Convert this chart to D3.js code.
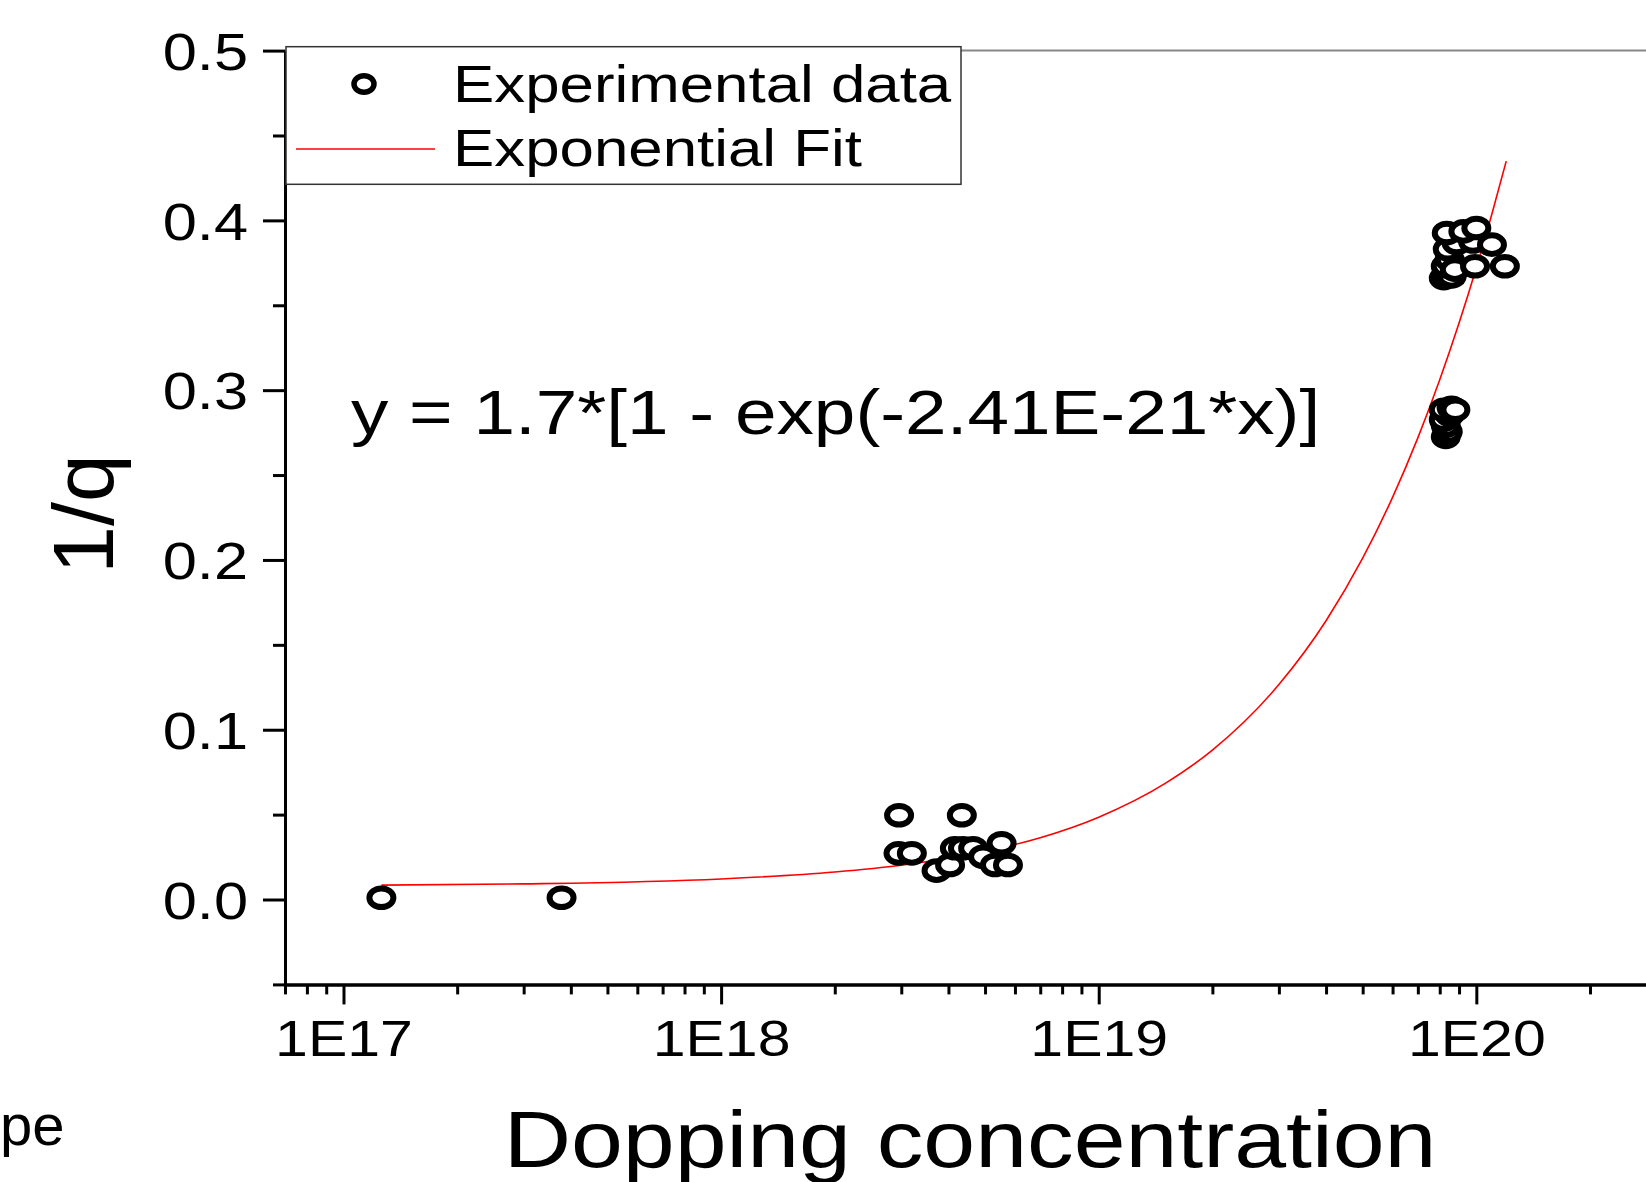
<!DOCTYPE html>
<html>
<head>
<meta charset="utf-8">
<script src="https://cdn.jsdelivr.net/npm/d3@7/dist/d3.min.js"></script>
<style>
  body { margin: 0; background: #fff; }
  svg { display: block; font-family: "Liberation Sans", Arial, sans-serif; }
</style>
</head>
<body>
<div id="chart"></div>
<script>
// experimental points (doping concentration, 1/q)
const expX = [
  1.26e17, 3.78e17,
  2.96e18, 4.34e18, 2.95e18, 3.2e18, 3.72e18, 4.04e18,
  4.16e18, 4.37e18, 4.65e18, 4.94e18, 5.31e18, 5.53e18, 5.75e18,
  8.3e19, 8.4e19, 8.3e19, 8.2e19, 8.5e19, 8.2e19, 8.6e19, 8.8e19,
  8.2e19, 8.4e19, 8.6e19, 8.3e19, 8.5e19, 8.77e19, 9.92e19, 1.19e20,
  8.4e19, 8.87e19, 9.8e19, 1.1e20, 8.35e19, 9.24e19, 1.0e20
];
const expY = [
  0.001, 0.001,
  0.0496, 0.0496, 0.0272, 0.0272, 0.017, 0.0203,
  0.0302, 0.0302, 0.0302, 0.0252, 0.0203, 0.0331, 0.0203,
  0.2725, 0.2755, 0.279, 0.2826, 0.2855, 0.2885, 0.2896, 0.2885,
  0.366, 0.368, 0.367, 0.373, 0.377, 0.371, 0.373, 0.373,
  0.383, 0.3867, 0.3876, 0.3857, 0.3926, 0.3935, 0.3955
];

// exponential fit curve
const fitX = [1.26e17, 3e17, 1e18, 2e18, 3e18, 5e18, 7e18, 1e19, 1.5e19, 2e19,
  3e19, 4e19, 5e19, 6e19, 7e19, 8e19, 9e19, 1e20, 1.1e20, 1.2e20];
const fitY = [0.0085, 0.0092, 0.0121, 0.0162, 0.0202, 0.0284, 0.0364, 0.0485, 0.0684, 0.088,
  0.1266, 0.1642, 0.201, 0.2369, 0.2719, 0.3061, 0.3395, 0.3721, 0.4039, 0.4349];

const xMajorTicks = [1e17, 1e18, 1e19, 1e20];
const yMajorTicks = [0, 0.1, 0.2, 0.3, 0.4, 0.5];
const yMinorTicks = [-0.05, 0.05, 0.15, 0.25, 0.35, 0.45];
const legendLabels = ["Experimental data", "Exponential Fit"];
const equationText = "y = 1.7*[1 - exp(-2.41E-21*x)]";

const W = 1646, H = 1182;
const sx = 1.18; // text in the original is stretched horizontally

const xMinorTicks = [7e16, 8e16, 9e16];
[1e17, 1e18, 1e19].forEach(d => { for (let k = 2; k <= 9; k++) xMinorTicks.push(k * d); });
xMinorTicks.push(2e20);

const svg = d3.select("#chart").append("svg")
  .attr("width", W).attr("height", H);

const x = d3.scaleLog().domain([7e16, 3e20]).range([285, 1656.5]);
const y = d3.scaleLinear().domain([-0.05, 0.5]).range([984.4, 50.6]);

// top frame line (right side is outside the picture)
svg.append("line")
  .attr("x1", 285).attr("x2", 1660)
  .attr("y1", y(0.5)).attr("y2", y(0.5))
  .attr("stroke", "#888").attr("stroke-width", 2);

const styleAxis = g => {
  g.select(".domain").attr("stroke", "#000").attr("stroke-width", 3);
  g.selectAll(".tick line").attr("stroke", "#000").attr("stroke-width", 3);
};

// x axis
svg.append("g")
  .attr("transform", `translate(0,${y(-0.05)})`)
  .call(d3.axisBottom(x).tickValues(xMinorTicks).tickSize(10).tickSizeOuter(0).tickFormat(""))
  .call(styleAxis);

const xAxis = svg.append("g")
  .attr("transform", `translate(0,${y(-0.05)})`)
  .call(d3.axisBottom(x).tickValues(xMajorTicks).tickSize(20).tickSizeOuter(0).tickPadding(16)
    .tickFormat(d => "1E" + Math.round(Math.log10(d))))
  .call(styleAxis);
xAxis.selectAll(".tick text")
  .attr("fill", "#000")
  .attr("font-size", 50)
  .attr("font-family", "Liberation Sans, Arial, sans-serif")
  .attr("transform", `scale(${sx},1)`);

// y axis
svg.append("g")
  .attr("transform", `translate(285,0)`)
  .call(d3.axisLeft(y).tickValues(yMinorTicks).tickSize(12).tickSizeOuter(0).tickFormat(""))
  .call(styleAxis);

const yAxis = svg.append("g")
  .attr("transform", `translate(285,0)`)
  .call(d3.axisLeft(y).tickValues(yMajorTicks).tickSize(22).tickSizeOuter(0)
    .tickFormat(d3.format(".1f")))
  .call(styleAxis);
yAxis.selectAll(".tick text")
  .attr("fill", "#000")
  .attr("font-size", 52)
  .attr("font-family", "Liberation Sans, Arial, sans-serif")
  .attr("x", -37 / sx)
  .attr("dy", "0.36em")
  .attr("transform", `scale(${sx},1)`);

// stretched text helper
const addText = (parent, px, py, str, size, anchor) => parent.append("g")
  .attr("transform", `translate(${px},${py}) scale(${sx},1)`)
  .append("text")
  .attr("text-anchor", anchor || "start")
  .attr("font-size", size)
  .attr("fill", "#000")
  .text(str);

// fit curve
const line = d3.line()
  .x(d => x(d[0]))
  .y(d => y(d[1]))
  .curve(d3.curveMonotoneX);

svg.append("path")
  .datum(d3.zip(fitX, fitY))
  .attr("d", line)
  .attr("fill", "none")
  .attr("stroke", "#ff0000")
  .attr("stroke-width", 1.6);

// experimental points
svg.append("g").selectAll("ellipse")
  .data(d3.zip(expX, expY))
  .join("ellipse")
  .attr("cx", d => x(d[0]))
  .attr("cy", d => y(d[1]))
  .attr("rx", 12)
  .attr("ry", 9.3)
  .attr("fill", "#fff")
  .attr("stroke", "#000")
  .attr("stroke-width", 6);

// equation
addText(svg, 351, 434, equationText, 63.3);

// legend
const legend = svg.append("g");
legend.append("rect")
  .attr("x", 286).attr("y", 46.7)
  .attr("width", 675).attr("height", 137.6)
  .attr("fill", "#fff")
  .attr("stroke", "#333")
  .attr("stroke-width", 1.5);
legend.append("ellipse")
  .attr("cx", 364).attr("cy", 84)
  .attr("rx", 10).attr("ry", 8.3)
  .attr("fill", "#fff")
  .attr("stroke", "#000")
  .attr("stroke-width", 5.5);
legend.append("line")
  .attr("x1", 296).attr("x2", 435)
  .attr("y1", 149).attr("y2", 149)
  .attr("stroke", "#ff0000").attr("stroke-width", 1.6);
addText(legend, 453, 102, legendLabels[0], 52.4);
addText(legend, 453, 166, legendLabels[1], 52.4);

// axis titles
addText(svg, 970, 1167, "Dopping concentration", 79, "middle");

svg.append("text")
  .attr("transform", "translate(113,514) rotate(-90)")
  .attr("text-anchor", "middle")
  .attr("font-size", 86)
  .attr("fill", "#000")
  .text("1/q");

// leftover label at the lower left edge
svg.append("text")
  .attr("x", 0).attr("y", 1145)
  .attr("font-size", 58)
  .attr("fill", "#000")
  .text("pe");
</script>
</body>
</html>
